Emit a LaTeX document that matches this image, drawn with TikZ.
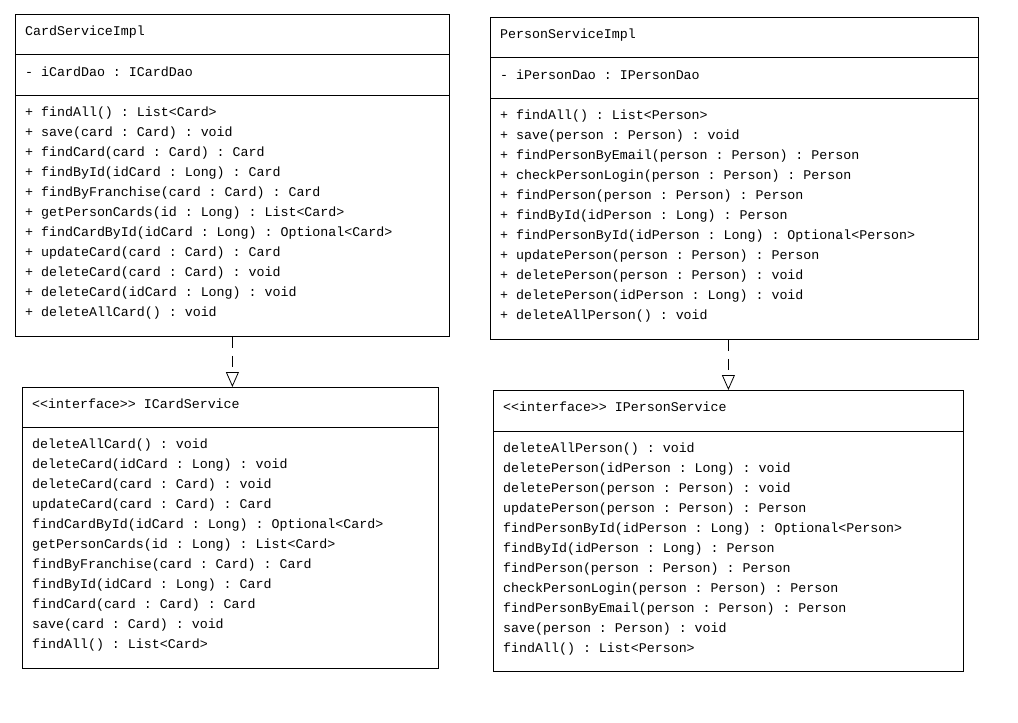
\documentclass[tikz,border=0pt]{standalone}
\usepackage{fontspec}
\setmonofont{Liberation Mono}
\usetikzlibrary{arrows.meta}

\tikzset{
  classbox/.style={draw, line width=0.8pt, anchor=north west, inner sep=0pt},
  member/.style={anchor=base west, inner sep=0pt, font=\ttfamily\fontsize{13.3}{16}\selectfont},
  realize/.style={line width=0.8pt, dash pattern=on 11pt off 8pt,
    -{Triangle[open, length=15pt, width=13pt, fill=white]}},
}

\begin{document}
\begin{tikzpicture}[x=1pt, y=-1pt]
    \useasboundingbox (0,0) rectangle (1018,723);

    % 类框 CardServiceImpl
    \node[classbox, minimum width=434pt, minimum height=322pt] (csi) at (15,14) {};
    \draw[line width=0.8pt] (15,54) -- (449,54);
    \draw[line width=0.8pt] (15,95) -- (449,95);
    \node[member] (csiName) at (25,35) {CardServiceImpl};
    \node[member] (csiAttr) at (25,76) {- iCardDao : ICardDao};
    \foreach \m [count=\i] in {{+ findAll() : List<Card>}, {+ save(card : Card) : void},
        {+ findCard(card : Card) : Card}, {+ findById(idCard : Long) : Card},
        {+ findByFranchise(card : Card) : Card}, {+ getPersonCards(id : Long) : List<Card>},
        {+ findCardById(idCard : Long) : Optional<Card>}, {+ updateCard(card : Card) : Card},
        {+ deleteCard(card : Card) : void}, {+ deleteCard(idCard : Long) : void},
        {+ deleteAllCard() : void}}
      \node[member] (csiOp\i) at (25,96+20*\i) {\m};

    % 接口 ICardService
    \node[classbox, minimum width=416pt, minimum height=281pt] (ics) at (22,387) {};
    \draw[line width=0.8pt] (22,427) -- (438,427);
    \node[member] (icsName) at (32,408) {<<interface>> ICardService};
    \foreach \m [count=\i] in {{deleteAllCard() : void}, {deleteCard(idCard : Long) : void},
        {deleteCard(card : Card) : void}, {updateCard(card : Card) : Card},
        {findCardById(idCard : Long) : Optional<Card>}, {getPersonCards(id : Long) : List<Card>},
        {findByFranchise(card : Card) : Card}, {findById(idCard : Long) : Card},
        {findCard(card : Card) : Card}, {save(card : Card) : void},
        {findAll() : List<Card>}}
      \node[member] (icsOp\i) at (32,428+20*\i) {\m};

    % 类框 PersonServiceImpl
    \node[classbox, minimum width=488pt, minimum height=322pt] (psi) at (490,17) {};
    \draw[line width=0.8pt] (490,57) -- (978,57);
    \draw[line width=0.8pt] (490,98) -- (978,98);
    \node[member] (psiName) at (500,38) {PersonServiceImpl};
    \node[member] (psiAttr) at (500,79) {- iPersonDao : IPersonDao};
    \foreach \m [count=\i] in {{+ findAll() : List<Person>}, {+ save(person : Person) : void},
        {+ findPersonByEmail(person : Person) : Person}, {+ checkPersonLogin(person : Person) : Person},
        {+ findPerson(person : Person) : Person}, {+ findById(idPerson : Long) : Person},
        {+ findPersonById(idPerson : Long) : Optional<Person>}, {+ updatePerson(person : Person) : Person},
        {+ deletePerson(person : Person) : void}, {+ deletePerson(idPerson : Long) : void},
        {+ deleteAllPerson() : void}}
      \node[member] (psiOp\i) at (500,99+20*\i) {\m};

    % 接口 IPersonService
    \node[classbox, minimum width=470pt, minimum height=281pt] (ips) at (493,390) {};
    \draw[line width=0.8pt] (493,431) -- (963,431);
    \node[member] (ipsName) at (503,411) {<<interface>> IPersonService};
    \foreach \m [count=\i] in {{deleteAllPerson() : void}, {deletePerson(idPerson : Long) : void},
        {deletePerson(person : Person) : void}, {updatePerson(person : Person) : Person},
        {findPersonById(idPerson : Long) : Optional<Person>}, {findById(idPerson : Long) : Person},
        {findPerson(person : Person) : Person}, {checkPersonLogin(person : Person) : Person},
        {findPersonByEmail(person : Person) : Person}, {save(person : Person) : void},
        {findAll() : List<Person>}}
      \node[member] (ipsOp\i) at (503,432+20*\i) {\m};

    % 实现关系 (虚线 + 空心三角)
    \draw[realize] (csi.south) -- (csi.south |- ics.north);
    \draw[realize] (psi.south -| ips.north) -- (ips.north);
\end{tikzpicture}
\end{document}
